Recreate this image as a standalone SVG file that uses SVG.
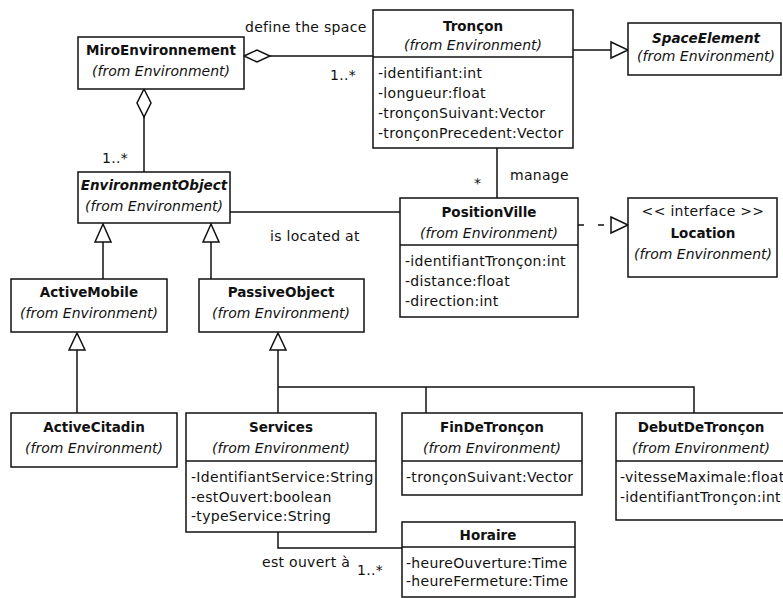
<svg xmlns="http://www.w3.org/2000/svg" width="783" height="598" viewBox="0 0 783 598">
<style>
  .box { fill: #fff; stroke: #111; stroke-width: 1.5; }
  .sep { stroke: #111; stroke-width: 1.5; }
  .ln { fill: none; stroke: #111; stroke-width: 1.5; }
  .dash { fill: none; stroke: #111; stroke-width: 1.5; stroke-dasharray: 6 14; }
  .hd { fill: #fff; stroke: #111; stroke-width: 1.5; }
  text { font-family: "DejaVu Sans", Verdana, sans-serif; font-size: 14px; fill: #111; letter-spacing: 0.3px; }
  .t { font-weight: bold; font-size: 13.5px; text-anchor: middle; letter-spacing: 0; }
  .ti { font-weight: bold; font-style: italic; font-size: 13.5px; text-anchor: middle; letter-spacing: 0; }
  .f { font-style: italic; text-anchor: middle; letter-spacing: 0; }
  .c { text-anchor: middle; }
</style>
<rect width="783" height="598" fill="#fff"/>
<g id="connectors">
  <line class="ln" x1="270" y1="56" x2="373" y2="56"/>
  <polygon class="hd" points="244,56 257,50 270,56 257,62"/>
  <line class="ln" x1="144" y1="117" x2="144" y2="172"/>
  <polygon class="hd" points="144,89 151,103 144,117 137,103"/>
  <line class="ln" x1="230" y1="212" x2="400" y2="212"/>
  <line class="ln" x1="497" y1="148" x2="497" y2="198"/>
  <line class="ln" x1="573" y1="50" x2="611" y2="50"/>
  <polygon class="hd" points="611,42 628,50 611,58"/>
  <line class="dash" x1="578" y1="225" x2="611" y2="225"/>
  <polygon class="hd" points="611,217 628,225 611,233"/>
  <line class="ln" x1="103" y1="242" x2="103" y2="279"/>
  <polygon class="hd" points="103,224 111,242 95,242"/>
  <line class="ln" x1="211" y1="242" x2="211" y2="279"/>
  <polygon class="hd" points="211,224 219,242 203,242"/>
  <line class="ln" x1="77" y1="350" x2="77" y2="413"/>
  <polygon class="hd" points="77,333 85,350 69,350"/>
  <polyline class="ln" points="278,350 278,413"/>
  <polygon class="hd" points="278,333 286,350 270,350"/>
  <polyline class="ln" points="278,387 694,387 694,413"/>
  <line class="ln" x1="426" y1="387" x2="426" y2="413"/>
  <polyline class="ln" points="278,532 278,548 402,548"/>
  <text x="245" y="32">define the space</text>
  <text x="330" y="80">1..*</text>
  <text x="102" y="163">1..*</text>
  <text x="270" y="241">is located at</text>
  <text x="510" y="180">manage</text>
  <text x="474" y="188">*</text>
  <text x="262" y="567">est ouvert à</text>
  <text x="357" y="575">1..*</text>
</g>
<g id="MiroEnvironnement">
  <rect class="box" x="78" y="37" width="166" height="52"/>
  <text class="t" x="161" y="55">MiroEnvironnement</text>
  <text class="f" x="161" y="76">(from Environment)</text>
</g>
<g id="Troncon">
  <rect class="box" x="373" y="10" width="200" height="138"/>
  <line class="sep" x1="373" y1="57" x2="573" y2="57"/>
  <text class="t" x="473" y="31">Tronçon</text>
  <text class="f" x="473" y="50">(from Environment)</text>
  <text x="378" y="78">-identifiant:int</text>
  <text x="378" y="98">-longueur:float</text>
  <text x="378" y="118">-tronçonSuivant:Vector</text>
  <text x="378" y="138">-tronçonPrecedent:Vector</text>
</g>
<g id="SpaceElement">
  <rect class="box" x="628" y="23" width="153" height="52"/>
  <text class="ti" x="706" y="43">SpaceElement</text>
  <text class="f" x="706" y="61">(from Environment)</text>
</g>
<g id="EnvironmentObject">
  <rect class="box" x="78" y="172" width="152" height="51"/>
  <text class="ti" x="154" y="190">EnvironmentObject</text>
  <text class="f" x="154" y="211">(from Environment)</text>
</g>
<g id="PositionVille">
  <rect class="box" x="400" y="198" width="178" height="119"/>
  <line class="sep" x1="400" y1="245" x2="578" y2="245"/>
  <text class="t" x="489" y="217">PositionVille</text>
  <text class="f" x="489" y="238">(from Environment)</text>
  <text x="405" y="266">-identifiantTronçon:int</text>
  <text x="405" y="286">-distance:float</text>
  <text x="405" y="306">-direction:int</text>
</g>
<g id="Location">
  <rect class="box" x="628" y="198" width="149" height="79"/>
  <text class="c" x="703" y="216">&lt;&lt; interface &gt;&gt;</text>
  <text class="t" x="703" y="238">Location</text>
  <text class="f" x="703" y="259">(from Environment)</text>
</g>
<g id="ActiveMobile">
  <rect class="box" x="11" y="279" width="156" height="53"/>
  <text class="t" x="89" y="297">ActiveMobile</text>
  <text class="f" x="89" y="318">(from Environment)</text>
</g>
<g id="PassiveObject">
  <rect class="box" x="199" y="279" width="165" height="53"/>
  <text class="t" x="281" y="297">PassiveObject</text>
  <text class="f" x="281" y="318">(from Environment)</text>
</g>
<g id="ActiveCitadin">
  <rect class="box" x="11" y="413" width="166" height="54"/>
  <text class="t" x="94" y="432">ActiveCitadin</text>
  <text class="f" x="94" y="453">(from Environment)</text>
</g>
<g id="Services">
  <rect class="box" x="186" y="413" width="190" height="119"/>
  <line class="sep" x1="186" y1="461" x2="376" y2="461"/>
  <text class="t" x="281" y="432">Services</text>
  <text class="f" x="281" y="453">(from Environment)</text>
  <text x="191" y="482">-IdentifiantService:String</text>
  <text x="191" y="502">-estOuvert:boolean</text>
  <text x="191" y="521">-typeService:String</text>
</g>
<g id="FinDeTroncon">
  <rect class="box" x="402" y="413" width="180" height="82"/>
  <line class="sep" x1="402" y1="461" x2="582" y2="461"/>
  <text class="t" x="492" y="432">FinDeTronçon</text>
  <text class="f" x="492" y="453">(from Environment)</text>
  <text x="406" y="482">-tronçonSuivant:Vector</text>
</g>
<g id="DebutDeTroncon">
  <rect class="box" x="616" y="413" width="190" height="107"/>
  <line class="sep" x1="616" y1="461" x2="806" y2="461"/>
  <text class="t" x="701" y="432">DebutDeTronçon</text>
  <text class="f" x="701" y="453">(from Environment)</text>
  <text x="620" y="482">-vitesseMaximale:float</text>
  <text x="620" y="502">-identifiantTronçon:int</text>
</g>
<g id="Horaire">
  <rect class="box" x="402" y="522" width="173" height="75"/>
  <line class="sep" x1="402" y1="547" x2="575" y2="547"/>
  <text class="t" x="488" y="540">Horaire</text>
  <text x="406" y="568">-heureOuverture:Time</text>
  <text x="406" y="586">-heureFermeture:Time</text>
</g>
</svg>
